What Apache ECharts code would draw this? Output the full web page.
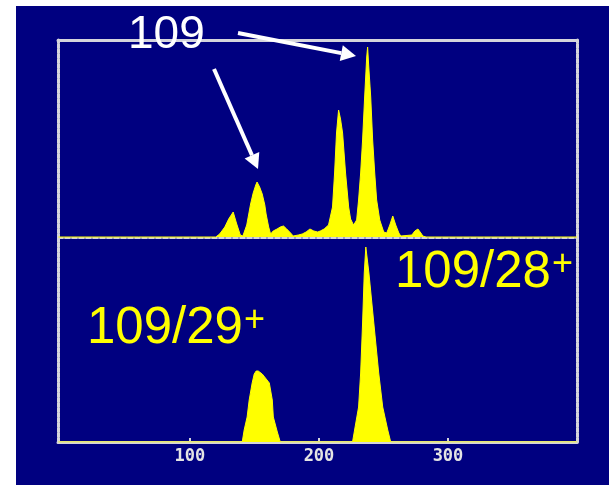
<!DOCTYPE html>
<html>
<head>
<meta charset="utf-8">
<script src="https://cdn.jsdelivr.net/npm/echarts@6/dist/echarts.min.js"></script>
<style>
html,body{margin:0;padding:0;background:#fff;}
#c{width:609px;height:489px;}
</style>
</head>
<body>
<div id="c"></div>
<script>
// x-axis tick labels
var tickValues = [100, 200, 300];
// top panel: [position, intensity]
var topSpectrum = [
  [-2,0],[60,0],[100,0],[120,0],[123,3],[127,10],[130,18],[133.5,25],[136,14],[139,2],[141,1],
  [144,12],[147,33],[149,44],[151,52],[152,55],[154,50],[156,43],[158,32],[159,23],[161,10],[162.5,3],
  [164.5,6],[167.5,8],[170,10],[172.5,11],[175,8],[178,4],[180,1],[184,2],[187,3],[190,5],[193,8],
  [196,6],[199,5],[201,6],[204,8],[207.4,12],[210.5,30],[212.1,64],[213.6,104],[215.2,127],[216.7,118],
  [218.3,104],[220.6,64],[223,30],[224.5,18],[226.8,12],[229.2,17],[230.7,37],[232.3,64],[233.8,97],
  [235.4,140],[237,180],[237.7,190],[238.5,172],[240.1,140],[241.6,97],[243.2,64],[244.7,37],[247.1,17],
  [250.2,5],[252.5,4],[254.9,12],[257.2,21],[259.5,12],[261.9,4],[263.4,1],[272,2],[274.3,6],[276.7,8],
  [279,4],[280.5,1],[283,0],[400,0]
];
// bottom panel: [position, intensity]
var bottomSpectrum = [
  [-2,0],[100,0],[140.5,0],[142,12],[144.3,25],[145.9,42],[148.2,59],[149.8,68],[151.3,71],[152.9,71],
  [154.4,70],[156,68],[159.1,63],[161.5,59],[163.8,42],[164.6,25],[167.7,10],[170,0],
  [226,0],[227.6,12],[230.7,35],[232.3,69],[233.8,119],[235.1,169],[236.3,195],[238.7,169],
  [242.5,119],[246.3,69],[249.4,35],[253.3,12],[255.6,0],[400,0]
];
var peakLabel = '109';
var label29 = ['109/29', '+'];
var label28 = ['109/28', '+'];

var frameColor = '#d4d4dc';
var frameLine = {show:true, onZero:false, lineStyle:{color:frameColor, width:3, type:[4,1]}};
var dividerLine = {show:true, onZero:false, lineStyle:{color:frameColor, width:2, type:[5,2]}};
var xMin = -2.3, xMax = 400;

var chart = echarts.init(document.getElementById('c'));

function frameAxisX(grid, pos, labels, line){
  return {
    type:'value', gridIndex:grid, position:pos, min:xMin, max:xMax,
    axisLine: line || frameLine,
    axisTick:{show:labels, inside:true, length:4, customValues:tickValues, lineStyle:{color:frameColor,width:2}},
    axisLabel:{show:labels, customValues:tickValues, color:'#e4e4e4', fontFamily:'DejaVu Sans Mono', fontWeight:'bold', fontSize:17, margin:6},
    splitLine:{show:false}
  };
}
function frameAxisY(grid, pos, min, max){
  return {
    type:'value', gridIndex:grid, position:pos, min:min, max:max,
    axisLine: frameLine, axisTick:{show:false}, axisLabel:{show:false}, splitLine:{show:false}
  };
}

var fill = '#ffff00';
function arrow(x1,y1,x2,y2){
  var dx=x2-x1, dy=y2-y1, L=Math.sqrt(dx*dx+dy*dy), ux=dx/L, uy=dy/L;
  var hl=15, hw=8;
  var bx=x2-ux*hl, by=y2-uy*hl;
  return [
    {type:'line', shape:{x1:x1,y1:y1,x2:bx,y2:by}, style:{stroke:'#fff', lineWidth:4}, z:20},
    {type:'polygon', shape:{points:[[x2,y2],[bx-uy*hw,by+ux*hw],[bx+uy*hw,by-ux*hw]]}, style:{fill:'#fff'}, z:20}
  ];
}
var bigFont = '51px "Liberation Sans", Arial, sans-serif';
var supFont = '36px "Liberation Sans", Arial, sans-serif';

var graphics = [
  {type:'rect', shape:{x:16,y:6,width:593,height:479}, style:{fill:'#000080'}, z:-10, silent:true},
  {type:'text', left:128, top:12, style:{text:peakLabel, fill:'#fff', font:'46px "Liberation Sans", Arial, sans-serif'}, z:20},
  {type:'text', left:87, top:303, style:{text:'{a|'+label29[0]+'}{b|'+label29[1]+'}', rich:{a:{fill:'#ffff00',font:bigFont}, b:{fill:'#ffff00',font:supFont, verticalAlign:'top', padding:[0,0,0,1]}}}, z:20},
  {type:'text', left:395, top:247, style:{text:'{a|'+label28[0]+'}{b|'+label28[1]+'}', rich:{a:{fill:'#ffff00',font:bigFont}, b:{fill:'#ffff00',font:supFont, verticalAlign:'top', padding:[0,0,0,1]}}}, z:20}
].concat(arrow(238,33,356,56)).concat(arrow(214,69,258,169));

chart.setOption({
  backgroundColor:'#ffffff',
  animation:false,
  grid:[
    {left:58, right:32, top:40, height:198},
    {left:58, right:32, top:238, height:204}
  ],
  xAxis:[
    frameAxisX(0,'bottom',false, dividerLine),
    frameAxisX(0,'top',false),
    frameAxisX(1,'bottom',true)
  ],
  yAxis:[
    frameAxisY(0,'left',-1,197),
    frameAxisY(0,'right',-1,197),
    frameAxisY(1,'left',0,204),
    frameAxisY(1,'right',0,204)
  ],
  series:[
    {type:'line', xAxisIndex:0, yAxisIndex:0, data:topSpectrum, symbol:'none', smooth:false,
     lineStyle:{color:fill, width:1}, areaStyle:{color:fill, opacity:1}, z:5},
    {type:'line', xAxisIndex:2, yAxisIndex:2, data:bottomSpectrum, symbol:'none', smooth:false,
     lineStyle:{color:fill, width:1}, areaStyle:{color:fill, opacity:1}, z:5}
  ],
  graphic: graphics
});
</script>
</body>
</html>
